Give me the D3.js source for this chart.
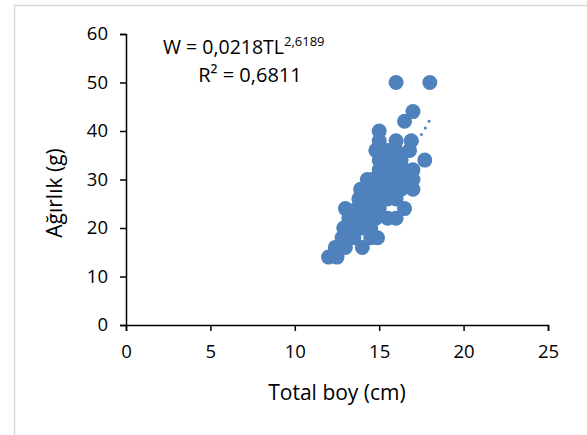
<!DOCTYPE html>
<html>
<head>
<meta charset="utf-8">
<script src="https://cdn.jsdelivr.net/npm/d3@7"></script>
<style>
  body { margin: 0; background: #fff; }
  svg text { font-family: "Open Sans", "Noto Sans", sans-serif; fill: #000; }
</style>
</head>
<body>
<script>
// total length (cm) and weight (g) of each fish
var totalBoy = [12.0, 12.5, 12.4, 13.0, 12.6, 12.8, 13.2, 12.9, 13.0, 14.0,
                14.9, 14.5, 13.5, 13.5, 14.0, 14.5, 13.8, 14.2, 14.8, 15.5,
                16.0, 13.5, 14.0, 14.5, 15.0, 16.5, 14.0, 14.5, 15.0, 15.5,
                16.0, 13.9, 14.5, 15.0, 15.5, 16.0, 17.0, 14.3, 15.0, 15.5,
                16.0, 16.5, 17.0, 15.0, 15.5, 16.0, 16.5, 17.0, 15.0, 15.5,
                16.0, 17.7, 15.5, 16.0, 16.8, 15.0, 16.0, 16.9, 15.0, 16.5,
                17.0, 16.0, 18.0, 13.3, 13.7, 14.2, 14.6, 15.2, 15.8, 16.3,
                14.8, 15.3, 16.3, 16.6, 13.2, 13.8, 14.3];
var agirlik  = [14, 14, 16, 16, 16, 18, 18, 20, 24, 16,
                18, 18, 18, 20, 20, 20, 22, 22, 22, 22,
                22, 22, 24, 24, 24, 24, 26, 26, 26, 26,
                26, 28, 28, 28, 28, 28, 28, 30, 30, 30,
                30, 30, 30, 32, 32, 32, 32, 32, 34, 34,
                34, 34, 36, 36, 36, 38, 38, 38, 40, 42,
                44, 50, 50, 20, 24, 28, 30, 32, 34, 34,
                36, 36, 28, 30, 22, 26, 24];

var xTicks = [0, 5, 10, 15, 20, 25];
var yTicks = [0, 10, 20, 30, 40, 50, 60];

// power trendline W = a * TL^b
var trendA = 0.0218, trendB = 2.6189;

var width = 587, height = 435;
var blue = '#4f81bd';

var svg = d3.select('body').append('svg')
    .attr('width', width).attr('height', height);

// chart frame
svg.append('rect')
    .attr('x', 14.5).attr('y', 5.5)
    .attr('width', 640).attr('height', 520)
    .attr('fill', '#fff').attr('stroke', '#d9d9d9').attr('stroke-width', 1.5);

var x = d3.scaleLinear().domain([0, 25]).range([126, 548]);
var y = d3.scaleLinear().domain([0, 60]).range([325, 34]);

var xAxis = svg.append('g')
    .attr('transform', 'translate(0,' + y(0) + ')')
    .call(d3.axisBottom(x).tickValues(xTicks).tickSize(6).tickPadding(14));
var yAxis = svg.append('g')
    .attr('transform', 'translate(' + x(0) + ',0)')
    .call(d3.axisLeft(y).tickValues(yTicks).tickSize(6).tickPadding(12));

[xAxis, yAxis].forEach(function (ax) {
    ax.select('.domain').attr('stroke', '#000').attr('stroke-width', 1.5);
    ax.selectAll('.tick line').attr('stroke', '#000').attr('stroke-width', 1.5);
    ax.selectAll('.tick text').attr('font-size', 18.5).attr('font-family', null);
});

// markers
svg.append('g').selectAll('circle')
    .data(totalBoy)
    .enter().append('circle')
    .attr('cx', function (d) { return x(d); })
    .attr('cy', function (d, i) { return y(agirlik[i]); })
    .attr('r', 7.5)
    .attr('fill', blue);

// dotted trendline from min to max length
var tMin = d3.min(totalBoy), tMax = d3.max(totalBoy);
var trendPts = d3.range(0, 61).map(function (i) {
    var t = tMin + (tMax - tMin) * i / 60;
    return [t, trendA * Math.pow(t, trendB)];
});
svg.append('path')
    .datum(trendPts)
    .attr('fill', 'none')
    .attr('stroke', blue)
    .attr('stroke-width', 3)
    .attr('stroke-linecap', 'round')
    .attr('stroke-dasharray', '0 7.6')
    .attr('d', d3.line().x(function (d) { return x(d[0]); }).y(function (d) { return y(d[1]); }));

// equation and R²
var eq = svg.append('text')
    .attr('x', 163).attr('y', 54)
    .attr('font-size', 19.5);
eq.append('tspan').text('W = 0,0218TL');
eq.append('tspan').attr('dy', -8).attr('font-size', 13).text('2,6189');

svg.append('text')
    .attr('x', 250).attr('y', 82)
    .attr('text-anchor', 'middle')
    .attr('font-size', 20)
    .text('R² = 0,6811');

// axis titles
svg.append('text')
    .attr('x', 337).attr('y', 400)
    .attr('text-anchor', 'middle')
    .attr('font-size', 21)
    .text('Total boy (cm)');

svg.append('text')
    .attr('transform', 'translate(62,193) rotate(-90)')
    .attr('text-anchor', 'middle')
    .attr('font-size', 21)
    .text('Ağırlık (g)');
</script>
</body>
</html>
